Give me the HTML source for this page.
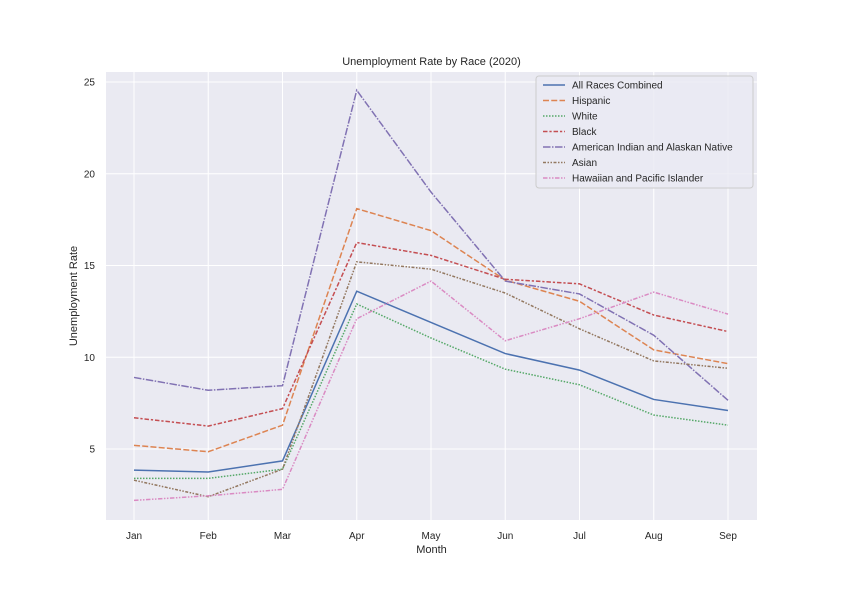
<!DOCTYPE html>
<html><head><meta charset="utf-8"><style>
body{margin:0;background:#fff;}
svg{font-family:"Liberation Sans","DejaVu Sans",sans-serif;}
</style></head><body>
<svg id="chart" width="842" height="595" xmlns="http://www.w3.org/2000/svg">
<rect x="106" y="72" width="651" height="448" fill="#eaeaf2"/>
<g id="grid"></g>
<g id="lines"></g>
<g id="ticks" font-size="10" fill="#262626"></g>
<text x="431.5" y="65" text-anchor="middle" font-size="11" fill="#262626">Unemployment Rate by Race (2020)</text>
<text x="431.5" y="553" text-anchor="middle" font-size="11" fill="#262626">Month</text>
<text x="77" y="296" text-anchor="middle" font-size="11" fill="#262626" transform="rotate(-90 77 296)">Unemployment Rate</text>
<g id="legend"></g>
</svg>
<script>
const months=["Jan","Feb","Mar","Apr","May","Jun","Jul","Aug","Sep"];
const yTicks=[5,10,15,20,25];
const seriesNames=["All Races Combined","Hispanic","White","Black","American Indian and Alaskan Native","Asian","Hawaiian and Pacific Islander"];
const allRaces=[3.85,3.75,4.35,13.6,11.9,10.2,9.3,7.7,7.1];
const hispanic=[5.2,4.85,6.3,18.1,16.9,14.2,13.05,10.4,9.65];
const white=[3.4,3.4,3.9,12.9,11.05,9.35,8.5,6.85,6.3];
const black=[6.7,6.25,7.2,16.25,15.55,14.25,14.0,12.3,11.4];
const aian=[8.9,8.2,8.45,24.55,19.0,14.15,13.45,11.2,7.65];
const asian=[3.3,2.4,3.9,15.2,14.8,13.5,11.55,9.8,9.4];
const hawaiian=[2.2,2.45,2.8,12.1,14.15,10.9,12.1,13.55,12.35];
const allSeries=[allRaces,hispanic,white,black,aian,asian,hawaiian];
const colors=["#4c72b0","#dd8452","#55a868","#c44e52","#8172b3","#937860","#da8bc3"];
const dashes=["","6,2.25","1.5,1.5","4.5,1.9,2.25,1.9","7.5,1.5,1.5,1.5","3,1.5,1.5,1.5,1.5,1.5","4.5,1.5,1.5,1.5,1.5,1.5"];
const NS="http://www.w3.org/2000/svg";
const x=i=>134+i*(728-134)/(months.length-1);
const y=v=>449-(v-5)*(449-82)/20;
function mk(t,a,p){const e=document.createElementNS(NS,t);for(const k in a)e.setAttribute(k,a[k]);p.appendChild(e);return e;}
const grid=document.getElementById('grid'),ticks=document.getElementById('ticks');
months.forEach((m,i)=>{
 const l=mk('line',{x1:x(i),x2:x(i),y1:72,y2:520,stroke:'#fff','stroke-width':1},grid);
 
 
 const t=mk('text',{x:x(i),y:539,'text-anchor':'middle'},ticks);t.textContent=m;
 
 
});
yTicks.forEach(v=>{
 const l=mk('line',{x1:106,x2:757,y1:y(v),y2:y(v),stroke:'#fff','stroke-width':1},grid);
 
 
 const t=mk('text',{x:95,y:y(v)+3.5,'text-anchor':'end'},ticks);t.textContent=v;
 
 
});
const lines=document.getElementById('lines');
allSeries.forEach((s,k)=>{
 const p=mk('polyline',{points:s.map((v,i)=>x(i)+','+y(v)).join(' '),fill:'none',stroke:colors[k],'stroke-width':1.5,'stroke-dasharray':dashes[k]},lines);
 
 
});
const lg=document.getElementById('legend');
const box=mk('rect',{x:536,y:76,width:217,height:112,fill:'#eaeaf2',stroke:'#ccc','stroke-width':1,rx:3,'fill-opacity':0.8},lg);


seriesNames.forEach((n,k)=>{
 const yy=85+k*15.5;
 const l=mk('line',{x1:543,x2:565,y1:yy,y2:yy,stroke:colors[k],'stroke-width':1.5,'stroke-dasharray':dashes[k]},lg);
 
 
 const t=mk('text',{x:572,y:yy+3.5,'font-size':10,fill:'#262626'},lg);t.textContent=n;
 
 
});
</script>
</body></html>
